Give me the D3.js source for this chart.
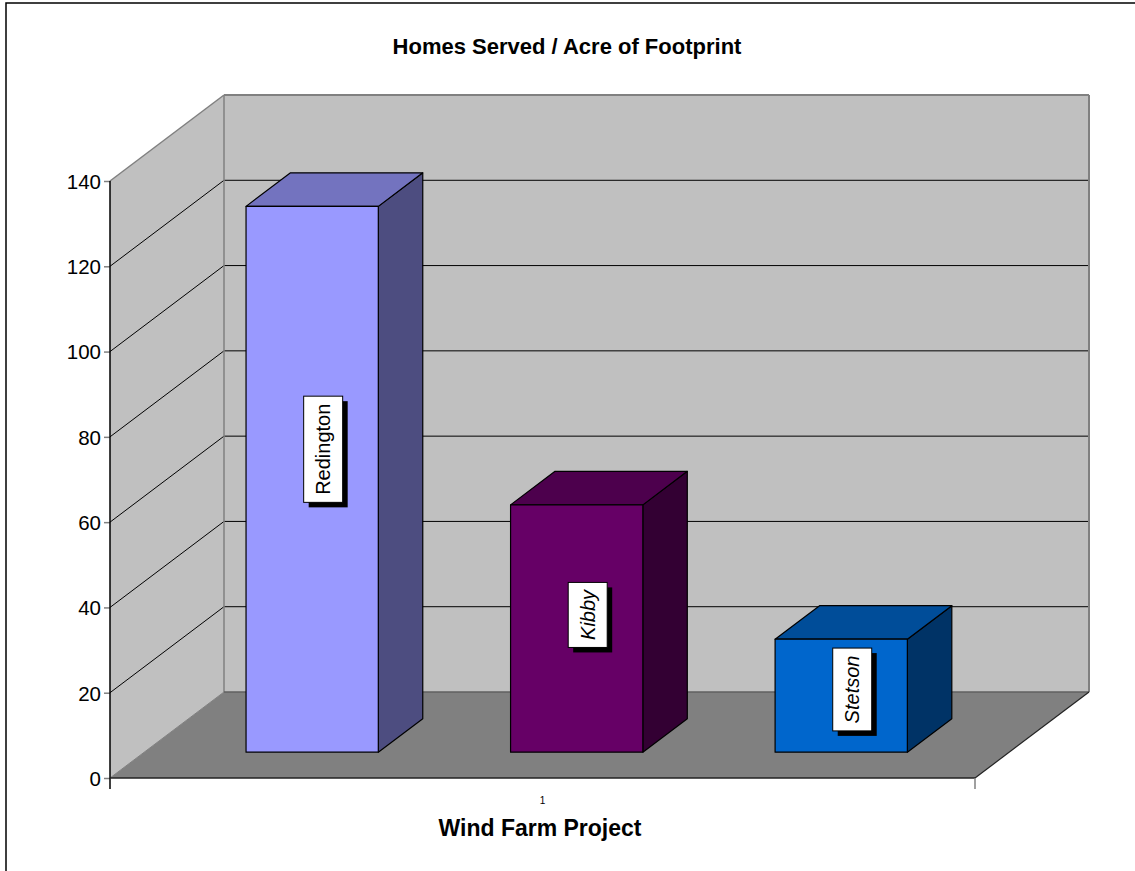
<!DOCTYPE html>
<html><head><meta charset="utf-8">
<script src="https://cdn.jsdelivr.net/npm/d3@7"></script>
<style>body{margin:0;background:#fff}svg{display:block}text{font-family:"Liberation Sans",Arial,sans-serif}</style>
</head><body>
<svg id="c" width="1135" height="871"></svg>
<script>
const categories = ["1"];
const seriesNames = ["Redington", "Kibby", "Stetson"];
const seriesValues = [128, 58, 26.5];
const yTickValues = [0, 20, 40, 60, 80, 100, 120, 140];
const labelItalic = [false, true, true];
const frontColors = ["#9999ff", "#660066", "#0066cc"];
const topColors = ["#7373bf", "#4d004d", "#004d99"];
const sideColors = ["#4d4d80", "#330033", "#003366"];

const svg = d3.select("#c");
const X0 = 110, X1 = 975, DX = 114, DY = -86;
const y = d3.scaleLinear().domain([0, 140]).range([778, 181]);
const xb = d3.scaleBand().domain(seriesNames).range([X0, X1]).paddingInner(0.5).paddingOuter(0.385);
const fx = 0.30, bd = 0.39;

// chart frame
svg.append("rect").attr("x", 6).attr("y", 3).attr("width", 1140).attr("height", 880)
  .attr("fill", "none").attr("stroke", "#000").attr("stroke-width", 1.5);

// walls
const pts = a => a.map(p => p.join(",")).join(" ");
svg.append("polygon").attr("points", pts([[X0, y(140)], [X0 + DX, y(140) + DY], [X0 + DX, y(0) + DY], [X0, y(0)]]))
  .attr("fill", "#c0c0c0");
svg.append("polygon").attr("points", pts([[X0 + DX, y(140) + DY], [X1 + DX, y(140) + DY], [X1 + DX, y(0) + DY], [X0 + DX, y(0) + DY]]))
  .attr("fill", "#c0c0c0");
svg.append("polygon").attr("points", pts([[X0, y(0)], [X0 + DX, y(0) + DY], [X1 + DX, y(0) + DY], [X1, y(0)]]))
  .attr("fill", "#808080");

// gridlines
const grid = yTickValues.filter(v => v > 0 && v < 140);
svg.selectAll(".gl").data(grid).enter().append("line")
  .attr("x1", X0).attr("y1", d => y(d)).attr("x2", X0 + DX).attr("y2", d => y(d) + DY)
  .attr("stroke", "#000").attr("stroke-width", 1);
svg.selectAll(".gb").data(grid).enter().append("line")
  .attr("x1", X0 + DX).attr("y1", d => y(d) + DY).attr("x2", X1 + DX).attr("y2", d => y(d) + DY)
  .attr("stroke", "#000").attr("stroke-width", 1);

// wall edges
const edge = (a, b, c, w) => svg.append("line").attr("x1", a[0]).attr("y1", a[1]).attr("x2", b[0]).attr("y2", b[1]).attr("stroke", c).attr("stroke-width", w || 1);
edge([X0, y(140)], [X0 + DX, y(140) + DY], "#808080", 1.5);
edge([X0 + DX, y(140) + DY], [X1 + DX, y(140) + DY], "#808080", 2);
edge([X1 + DX, y(140) + DY], [X1 + DX, y(0) + DY], "#808080", 2);
edge([X0 + DX, y(140) + DY], [X0 + DX, y(0) + DY], "#808080", 1.5);
edge([X0 + DX, y(0) + DY], [X1 + DX, y(0) + DY], "#606060", 1.5);
edge([X0, y(0)], [X0 + DX, y(0) + DY], "#808080", 1);
edge([X1, y(0)], [X1 + DX, y(0) + DY], "#222", 1.2);

// axes
const yAxis = d3.axisLeft(y).tickValues(yTickValues).tickSize(6).tickPadding(3);
const ga = svg.append("g").attr("transform", `translate(${X0},0)`).call(yAxis);
ga.select(".domain").remove();
ga.selectAll(".tick line").attr("stroke", "#808080").attr("stroke-width", 1.5);
ga.selectAll(".tick text").attr("font-size", 20.5).attr("fill", "#000").attr("dy", "0.36em");
edge([X0, y(140)], [X0, y(0) + 11], "#000", 1.5);
edge([X0, y(0)], [X1, y(0)], "#222", 1.5);
edge([X1, y(0)], [X1, y(0) + 11], "#808080", 1.5);

svg.append("text").attr("x", (X0 + X1) / 2).attr("y", 804).attr("text-anchor", "middle")
  .attr("font-size", 10).attr("fill", "#000").text(categories[0]);

// bars
const ox = fx * DX, oy = fx * DY, bx = bd * DX, by = bd * DY;
seriesNames.forEach((name, i) => {
  const v = seriesValues[i];
  const xl = xb(name) + ox, xr = xl + xb.bandwidth();
  const yt = y(v) + oy, yb = y(0) + oy;
  const g = svg.append("g").attr("stroke", "#000").attr("stroke-width", 1.2).attr("stroke-linejoin", "round");
  g.append("polygon").attr("points", pts([[xr, yt], [xr + bx, yt + by], [xr + bx, yb + by], [xr, yb]])).attr("fill", sideColors[i]);
  g.append("polygon").attr("points", pts([[xl, yt], [xl + bx, yt + by], [xr + bx, yt + by], [xr, yt]])).attr("fill", topColors[i]);
  g.append("rect").attr("x", xl).attr("y", yt).attr("width", xr - xl).attr("height", yb - yt).attr("fill", frontColors[i]);

  // label
  const cx = (xl + xr) / 2 + 11, cy = y(v * 0.555) + oy;
  const lg = svg.append("g").attr("transform", `translate(${cx},${cy}) rotate(-90)`);
  const t = lg.append("text").attr("text-anchor", "middle").attr("dy", "0.35em")
    .attr("font-size", 20).attr("font-style", labelItalic[i] ? "italic" : "normal").text(name);
  const L = t.node().getComputedTextLength();
  const w = L + 15, h = 39;
  lg.insert("rect", "text").attr("x", -w / 2 - 5).attr("y", -h / 2 + 5).attr("width", w).attr("height", h).attr("fill", "#000");
  lg.insert("rect", "text").attr("x", -w / 2).attr("y", -h / 2).attr("width", w).attr("height", h)
    .attr("fill", "#fff").attr("stroke", "#000").attr("stroke-width", 1);
});

// titles
svg.append("text").attr("x", 567).attr("y", 54).attr("text-anchor", "middle")
  .attr("font-size", 22).attr("font-weight", "bold").text("Homes Served / Acre of Footprint");
svg.append("text").attr("x", 540).attr("y", 836).attr("text-anchor", "middle")
  .attr("font-size", 23).attr("font-weight", "bold").text("Wind Farm Project");
</script>
</body></html>
